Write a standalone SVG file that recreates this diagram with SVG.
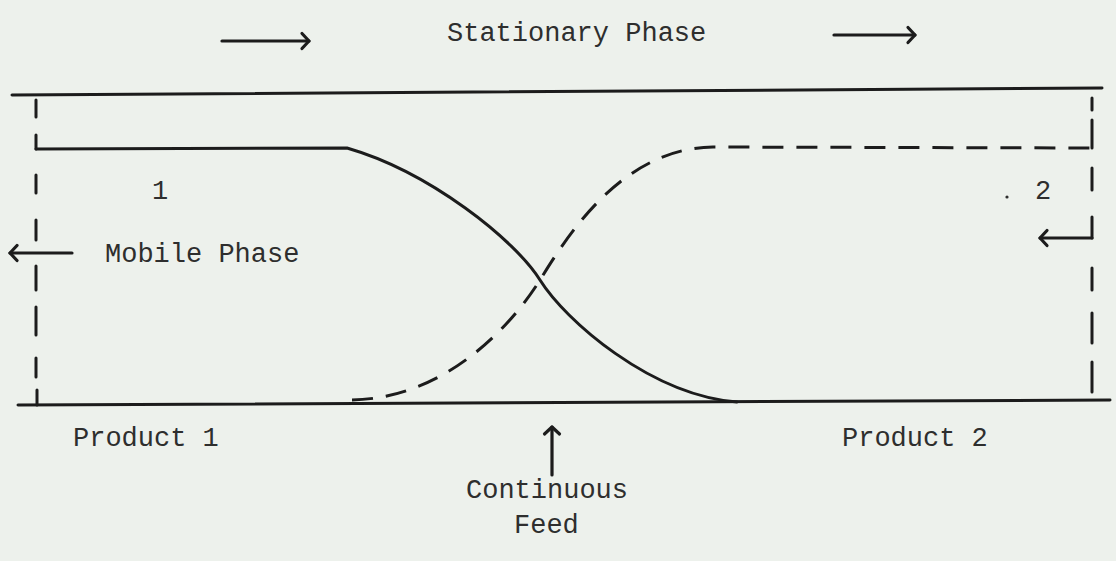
<svg xmlns="http://www.w3.org/2000/svg" width="1116" height="561" viewBox="0 0 1116 561">
<defs>
<marker id="ah" markerUnits="userSpaceOnUse" markerWidth="20" markerHeight="20" refX="10" refY="10" orient="auto" viewBox="0 0 20 20">
<path d="M3,2.5 L10,10 L3,17.5" fill="none" stroke="#1c1c1c" stroke-width="3.2" stroke-linecap="round" stroke-linejoin="round"/>
</marker>
<style>
.ln{fill:none;stroke:#1c1c1c;stroke-width:3;stroke-linecap:round;stroke-linejoin:round}
.ds{fill:none;stroke:#1c1c1c;stroke-width:3;stroke-dasharray:21 13}
.ar{fill:none;stroke:#1c1c1c;stroke-width:3.2;stroke-linecap:round;marker-end:url(#ah)}
.t{font-family:"Liberation Mono","Courier New",monospace;font-size:27px;fill:#2e2e2e}
</style>
</defs>
<rect width="1116" height="561" fill="#edf1ec"/>
<g id="column">
<path class="ln" d="M12,95 L1102,88"/>
<path class="ln" d="M18,405 L1110,400"/>
</g>
<g id="left-boundary">
<path class="ln" d="M36,100 V117 M36,135 V149 M36,175 V193 M36,220 V240 M36,266 V290 M36,307 V335 M36,358 V377 M37,390 V405"/>
</g>
<g id="right-boundary">
<path class="ln" d="M1092,98 V110 M1092,120 V148 M1092,168 V190 M1092,217 V238 M1092,268 V290 M1092,313 V343 M1092,362 V392"/>
</g>
<g id="curve1">
<path class="ln" d="M36,149 L347,148 C430,172 515,240 540,280 C565,320 650,395 737,402"/>
</g>
<g id="curve2">
<path class="ds" d="M352,400 C450,398 515,320 540,280 C565,240 620,148 713,147 L1092,148"/>
</g>
<g id="connectors">
<path class="ar" d="M222,41 H309"/>
<path class="ar" d="M834,35 H915"/>
<path class="ar" d="M72,253 H10"/>
<path class="ar" d="M1092,238 H1040"/>
<path class="ar" d="M552,475 V427"/>
</g>
<g id="labels">
<text class="t" x="447" y="41">Stationary Phase</text>
<text class="t" x="105" y="262">Mobile Phase</text>
<text class="t" x="152" y="199">1</text>
<text class="t" x="1035" y="199">2</text>
<circle cx="1007" cy="197" r="1.6" fill="#2e2e2e"/>
<text class="t" x="73" y="446">Product 1</text>
<text class="t" x="842" y="446">Product 2</text>
<text class="t" x="466" y="498">Continuous</text>
<text class="t" x="514" y="533">Feed</text>
</g>
</svg>
